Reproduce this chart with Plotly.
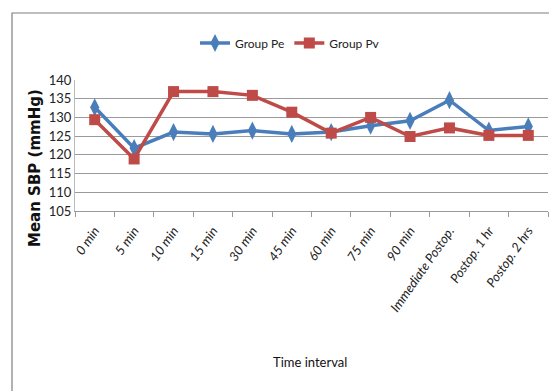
import plotly.graph_objects as go

categories = ["0 min", "5 min", "10 min", "15 min", "30 min", "45 min", "60 min",
              "75 min", "90 min", "Immediate Postop.", "Postop. 1 hr", "Postop. 2 hrs"]
group_pe = [132.7, 121.8, 126.1, 125.6, 126.5, 125.6, 126.1, 127.8, 129.1, 134.6, 126.5, 127.6]
group_pv = [129.4, 118.9, 136.9, 136.9, 135.9, 131.4, 125.8, 130.0, 124.9, 127.2, 125.2, 125.2]
y_ticks = [105, 110, 115, 120, 125, 130, 135, 140]

W, H = 549, 391
L, R, T, B = 75, 1, 80, 180
pw = W - L - R
ph = H - T - B

def px(x):
    return (x - L) / pw

def py(y):
    return (H - B - y) / ph

FONT = "Lato, Carlito, sans-serif"

fig = go.Figure()
fig.add_trace(go.Scatter(
    x=categories, y=group_pe, name="Group Pe", mode="lines+markers",
    line=dict(color="#4A7EBB", width=3.5),
    marker=dict(symbol="diamond-tall", size=13, color="#4A7EBB"),
))
fig.add_trace(go.Scatter(
    x=categories, y=group_pv, name="Group Pv", mode="lines+markers",
    line=dict(color="#BE4B48", width=3.5),
    marker=dict(symbol="square", size=11, color="#BE4B48"),
))

fig.update_layout(
    width=W, height=H,
    margin=dict(l=L, r=R, t=T, b=B),
    paper_bgcolor="white", plot_bgcolor="white",
    font=dict(family=FONT, size=12, color="#222222"),
    showlegend=True,
    legend=dict(orientation="h", x=px(290), xanchor="center", y=py(43), yanchor="middle",
                font=dict(family=FONT, size=12, color="#222222"),
                bgcolor="rgba(0,0,0,0)", itemwidth=30, tracegroupgap=0),
    xaxis=dict(
        type="category", tickangle=-55, showgrid=False, automargin=False,
        tickmode="array", tickvals=categories,
        ticktext=["<i>" + c + "</i>" for c in categories],
        tickfont=dict(family=FONT, size=13, color="#222222"),
        ticks="outside", ticklen=5, tickcolor="#999999",
        tickson="boundaries", ticklabelstandoff=6,
        showline=True, linecolor="#999999", linewidth=1,
        range=[-0.5, 11.5],
    ),
    yaxis=dict(
        range=[105, 140], tickvals=y_ticks, showgrid=True, gridcolor="#9A9A9A", gridwidth=1,
        showline=True, linecolor="#BBBBBB", linewidth=1, zeroline=False, automargin=False,
        tickfont=dict(family=FONT, size=13, color="#222222"),
        ticks="",
    ),
    shapes=[dict(type="rect", xref="paper", yref="paper",
                 x0=px(12), x1=px(600), y0=py(450), y1=py(13),
                 line=dict(color="#7F7F7F", width=1.2), fillcolor="rgba(0,0,0,0)", layer="below")],
    annotations=[
        dict(text="<b>Mean SBP (mmHg)</b>", xref="paper", yref="paper", x=px(35), y=py(168),
             textangle=-90, showarrow=False, xanchor="center", yanchor="middle",
             font=dict(family="DejaVu Sans, Verdana, sans-serif", size=15, color="#111111")),
        dict(text="Time interval", xref="paper", yref="paper", x=px(310), y=py(362),
             showarrow=False, xanchor="center", yanchor="middle",
             font=dict(family=FONT, size=13, color="#111111")),
    ],
)

fig.write_html("out.html", config={"displayModeBar": False},
               post_script="document.body.style.margin='0px';")
